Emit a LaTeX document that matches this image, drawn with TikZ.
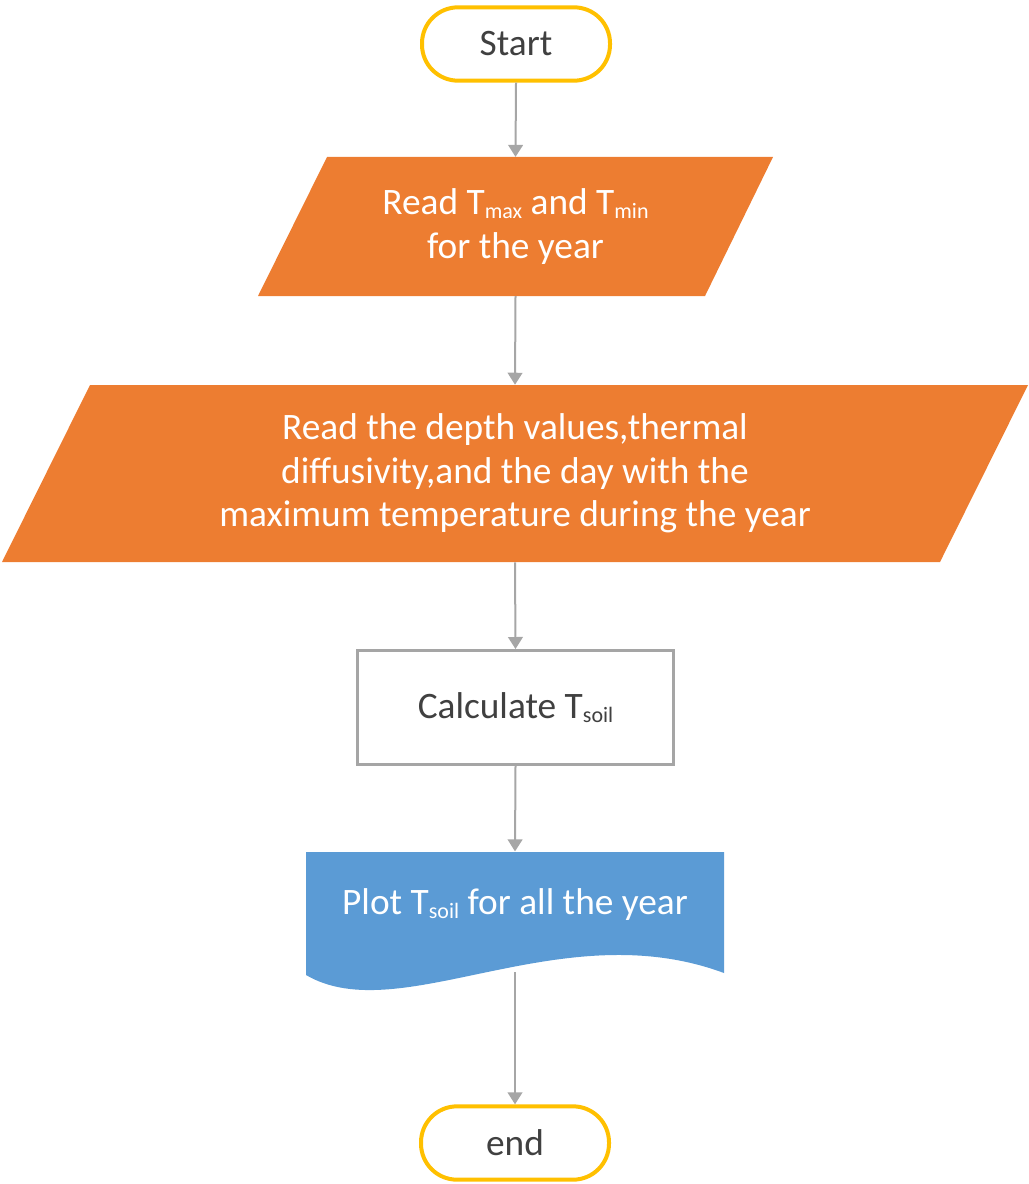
\documentclass[tikz,border=0pt]{standalone}
\usepackage{fontspec}
\setmainfont{Carlito}
\usetikzlibrary{arrows.meta}
\definecolor{termgold}{HTML}{FFC000}
\definecolor{ioorange}{HTML}{ED7D31}
\definecolor{docblue}{HTML}{5B9BD5}
\definecolor{boxgray}{HTML}{A5A5A5}
\definecolor{arrgray}{HTML}{A6A6A6}
\definecolor{txtgray}{HTML}{404040}
\newcommand{\lowsub}[1]{\raisebox{-0.1em}{\fontsize{16.5}{16.5}\selectfont #1}}
\tikzset{
  basefont/.style={font=\fontsize{28}{32.5}\selectfont},
  terminal/.style={basefont, draw=termgold, line width=3pt, fill=white, rounded corners=27pt,
    minimum width=141pt, minimum height=55pt, text=txtgray},
  inv/.style={basefont, inner sep=0pt, align=center, text=white},
  procbox/.style={basefont, draw=boxgray, line width=2.25pt, fill=white,
    minimum width=237pt, minimum height=85.5pt, text=txtgray},
  flow/.style={draw=arrgray, line width=1.5pt, -{Triangle[width=11pt,length=9pt]}},
}
\begin{document}
\begin{tikzpicture}[x=0.75pt,y=-0.75pt]
\useasboundingbox (0,0) rectangle (1028,1184);
% shapes
\fill[ioorange] (327,157) -- (773,157) -- (705,296) -- (258,296) -- cycle;
\fill[ioorange] (90,385) -- (1028,385) -- (940,562) -- (2,562) -- cycle;
\fill[docblue] (306,852) -- (724,852) -- (724,973)
   .. controls (560,912) and (400,1030) .. (306,975) -- cycle;
% nodes
\node[terminal] (start) at (516,44) {Start};
\node[inv, minimum width=386pt, minimum height=104pt] (p1) at (515.5,226.5)
  {Read T\lowsub{max} and T\lowsub{min}\\for the year};
\node[inv, minimum width=770pt, minimum height=132.75pt] (p2) at (515,473.5)
  {Read the depth values,thermal\\diffusivity,and the day with the\\maximum temperature during the year};
\node[procbox] (calc) at (515.5,707.5) {Calculate T\lowsub{soil}};
\node[inv, minimum width=313pt, minimum height=80pt] (plot) at (515,905) {Plot T\lowsub{soil} for all the year};
\coordinate (plotbot) at (515,972);
\node[terminal] (end) at (515,1143) {end};
% connectors
\draw[flow] (start.south) -- (p1.north);
\draw[flow] (p1.south) -- (p2.north);
\draw[flow] (p2.south) -- (calc.north);
\draw[flow] (calc.south) -- (plot.north);
\draw[flow] (plotbot) -- (end.north);
\end{tikzpicture}
\end{document}
